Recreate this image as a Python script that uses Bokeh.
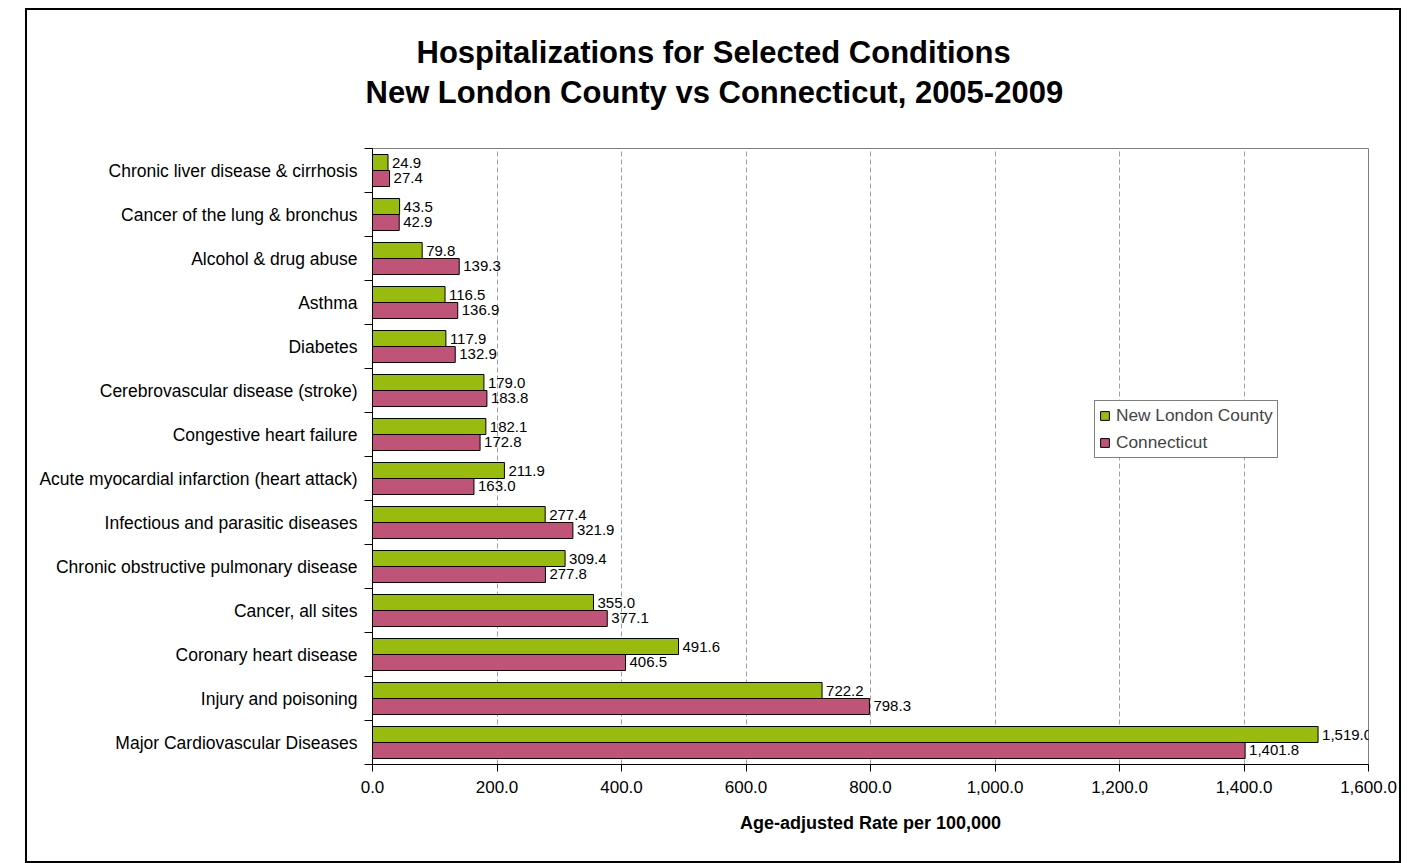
from bokeh.plotting import figure
from bokeh.models import Range1d, FixedTicker, NumeralTickFormatter, Title, ColumnDataSource, LabelSet
from bokeh.embed import file_html
from bokeh.resources import INLINE
from bokeh.core.properties import value

categories = [
    "Chronic liver disease & cirrhosis",
    "Cancer of the lung & bronchus",
    "Alcohol & drug abuse",
    "Asthma",
    "Diabetes",
    "Cerebrovascular disease (stroke)",
    "Congestive heart failure",
    "Acute myocardial infarction (heart attack)",
    "Infectious and parasitic diseases",
    "Chronic obstructive pulmonary disease",
    "Cancer, all sites",
    "Coronary heart disease",
    "Injury and poisoning",
    "Major Cardiovascular Diseases",
]
new_london = [24.9, 43.5, 79.8, 116.5, 117.9, 179.0, 182.1, 211.9, 277.4, 309.4, 355.0, 491.6, 722.2, 1519.0]
connecticut = [27.4, 42.9, 139.3, 136.9, 132.9, 183.8, 172.8, 163.0, 321.9, 277.8, 377.1, 406.5, 798.3, 1401.8]
x_ticks = [0, 200, 400, 600, 800, 1000, 1200, 1400, 1600]

FONT = "Liberation Sans"
GREEN = "#99BB0E"
PINK = "#C05478"

n = len(categories)
centers = [n - 0.5 - i for i in range(n)]
bar_h = 0.3636
off = bar_h / 2

src_g = ColumnDataSource(dict(
    y=[c + off for c in centers], x=new_london,
    lab=[f"{v:,.1f}" for v in new_london]))
src_p = ColumnDataSource(dict(
    y=[c - off for c in centers], x=connecticut,
    lab=[f"{v:,.1f}" for v in connecticut]))

p = figure(width=1376, height=855, x_range=Range1d(0, 1600), y_range=Range1d(0, n),
           output_backend="svg", toolbar_location=None,
           min_border_left=345, min_border_right=35, min_border_top=138, min_border_bottom=101)
p.styles = {"border": "2px solid black", "margin-left": "25px", "margin-top": "8px"}

p.hbar(y="y", right="x", left=0, height=bar_h, source=src_g, fill_color=GREEN,
       line_color="black", line_width=1, legend_label="New London County")
p.hbar(y="y", right="x", left=0, height=bar_h, source=src_p, fill_color=PINK,
       line_color="black", line_width=1, legend_label="Connecticut")

for s in (src_g, src_p):
    p.add_layout(LabelSet(x="x", y="y", text="lab", source=s, x_offset=4,
                          text_baseline="middle", text_align="left", text_font=value(FONT),
                          text_font_size="15px", text_color="black"))

# axes
p.xaxis.ticker = FixedTicker(ticks=x_ticks)
p.xaxis.formatter = NumeralTickFormatter(format="0,0.0")
p.xaxis.major_tick_out = 7
p.xaxis.major_tick_in = 0
p.xaxis.minor_tick_out = 0
p.xaxis.minor_tick_in = 0
p.xaxis.major_label_standoff = 9
p.xaxis.major_label_text_font = FONT
p.xaxis.major_label_text_font_size = "17px"
p.xaxis.major_label_text_color = "black"
p.xaxis.axis_label = "Age-adjusted Rate per 100,000"
p.xaxis.axis_label_text_font = FONT
p.xaxis.axis_label_text_font_size = "18px"
p.xaxis.axis_label_text_font_style = "bold"
p.xaxis.axis_label_text_color = "black"
p.xaxis.axis_label_standoff = 17
p.xaxis.axis_line_color = "black"
p.xaxis.major_tick_line_color = "black"

p.yaxis.ticker = FixedTicker(ticks=centers, minor_ticks=list(range(n + 1)))
p.yaxis.major_label_overrides = {c: cat for c, cat in zip(centers, categories)}
p.yaxis.major_tick_out = 0
p.yaxis.major_tick_in = 0
p.yaxis.minor_tick_out = 8
p.yaxis.minor_tick_in = 0
p.yaxis.minor_tick_line_color = "black"
p.yaxis.major_label_standoff = 7
p.yaxis.major_label_text_font = FONT
p.yaxis.major_label_text_font_size = "17.5px"
p.yaxis.major_label_text_color = "black"
p.yaxis.axis_line_color = "black"

p.xgrid.ticker = FixedTicker(ticks=x_ticks[1:-1])
p.xgrid.grid_line_color = "#A0A0A0"
p.xgrid.grid_line_dash = "5 3"
p.ygrid.grid_line_color = None
p.outline_line_color = "#808080"
p.outline_line_width = 1

# titles (spacer nearest the plot, then line 2, then line 1)
p.add_layout(Title(text=" ", text_font=FONT, text_font_size="31px", standoff=0), "above")
p.add_layout(Title(text="New London County vs Connecticut, 2005-2009", text_font=FONT,
                   text_font_size="31px", text_font_style="bold", align="left",
                   text_color="black", offset=-7, standoff=3), "above")
p.add_layout(Title(text="Hospitalizations for Selected Conditions", text_font=FONT,
                   text_font_size="31px", text_font_style="bold", align="left",
                   text_color="black", offset=44, standoff=3), "above")

lg = p.legend[0]
lg.location = (722, 306)
lg.border_line_color = "black"
lg.border_line_width = 1
lg.label_text_font = FONT
lg.label_text_font_size = "17.3px"
lg.glyph_width = 11
lg.glyph_height = 11
lg.padding = 4
lg.spacing = 6
lg.margin = 0
lg.label_standoff = 6
lg.label_height = 18
lg.background_fill_alpha = 1

open("out.html", "w").write(file_html(p, INLINE))
